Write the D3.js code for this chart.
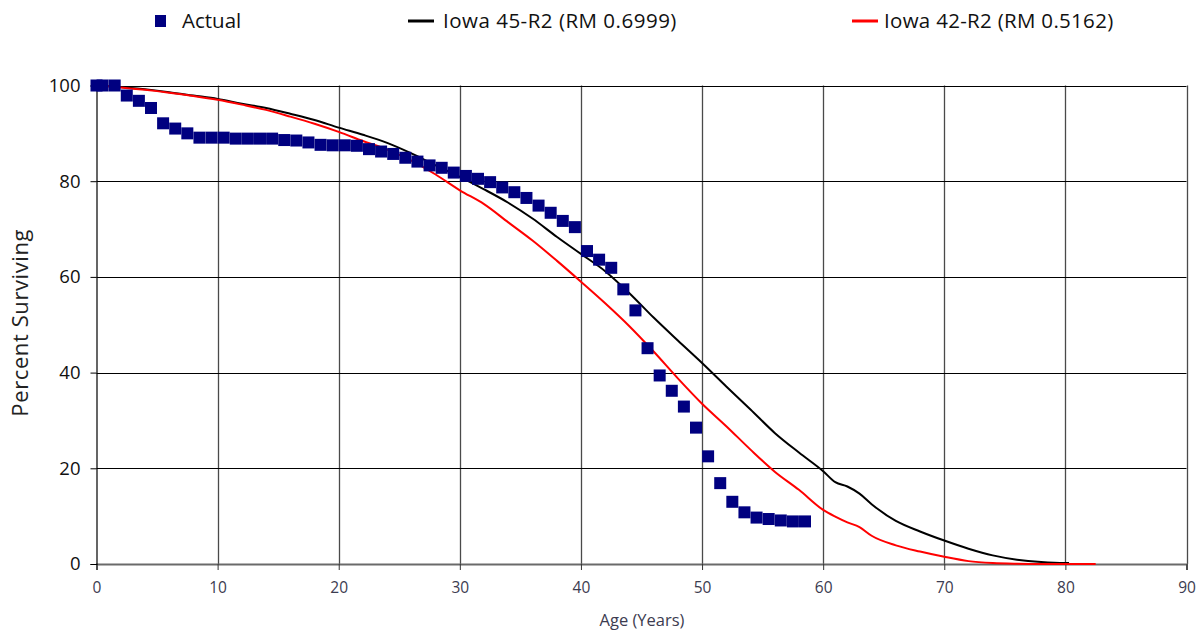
<!DOCTYPE html>
<html>
<head>
<meta charset="utf-8">
<script src="https://cdn.jsdelivr.net/npm/d3@7"></script>
<style>
  html, body { margin: 0; padding: 0; background: #fff; }
  svg { display: block; font-family: "Open Sans", "DejaVu Sans", sans-serif; }
</style>
</head>
<body>
<svg id="chart" width="1199" height="630"></svg>
<script>
// ---- data ----
const actualAges = [0, 0.5, 1.5, 2.5, 3.5, 4.5, 5.5, 6.5, 7.5, 8.5, 9.5, 10.5, 11.5, 12.5, 13.5, 14.5, 15.5, 16.5, 17.5, 18.5, 19.5, 20.5, 21.5, 22.5, 23.5, 24.5, 25.5, 26.5, 27.5, 28.5, 29.5, 30.5, 31.5, 32.5, 33.5, 34.5, 35.5, 36.5, 37.5, 38.5, 39.5, 40.5, 41.5, 42.5, 43.5, 44.5, 45.5, 46.5, 47.5, 48.5, 49.5, 50.5, 51.5, 52.5, 53.5, 54.5, 55.5, 56.5, 57.5, 58.5];
const actualValues = [100, 100, 100, 97.9, 96.8, 95.3, 92.1, 91.0, 90.0, 89.1, 89.1, 89.1, 88.9, 88.9, 88.9, 88.9, 88.6, 88.5, 88.1, 87.6, 87.5, 87.5, 87.4, 86.7, 86.2, 85.7, 84.9, 84.1, 83.3, 82.8, 81.8, 81.1, 80.5, 79.8, 78.7, 77.7, 76.5, 74.9, 73.4, 71.7, 70.4, 65.4, 63.6, 61.9, 57.4, 53.0, 45.1, 39.4, 36.2, 32.9, 28.5, 22.5, 16.9, 13.0, 10.8, 9.7, 9.4, 9.1, 8.9, 8.9];

const iowa45Ages = [0, 2, 4, 6, 8, 10, 12, 14, 16, 18, 20, 22, 24, 26, 28, 30, 32, 34, 36, 38, 40, 42, 44, 46, 48, 50, 52, 54, 56, 58, 60, 61, 62, 63, 64, 66, 68, 70, 72, 74, 76, 78, 80, 80.3];
const iowa45Values = [100, 99.7, 99.2, 98.6, 97.9, 97.2, 96.2, 95.3, 94.1, 92.8, 91.2, 89.7, 88.0, 85.8, 83.3, 80.9, 78.3, 75.5, 72.2, 68.4, 64.8, 61.2, 56.6, 51.5, 46.7, 42.0, 37.1, 32.3, 27.4, 23.3, 19.4, 17.1, 16.2, 14.7, 12.5, 9.0, 6.8, 4.9, 3.2, 1.8, 0.9, 0.4, 0.2, 0.2];

const iowa42Ages = [0, 2, 4, 6, 8, 10, 12, 14, 16, 18, 20, 22, 24, 26, 28, 30, 32, 34, 36, 38, 40, 42, 44, 46, 48, 50, 52, 54, 56, 58, 60, 61, 62, 63, 64, 66, 68, 70, 72, 74, 76, 78, 80, 82.5];
const iowa42Values = [100, 99.6, 99.1, 98.5, 97.8, 97.0, 96.0, 94.9, 93.5, 92.0, 90.3, 88.4, 86.6, 84.3, 81.4, 78.1, 75.2, 71.4, 67.6, 63.4, 59.0, 54.5, 49.7, 44.4, 38.8, 33.5, 28.8, 23.9, 19.3, 15.5, 11.3, 9.9, 8.7, 7.7, 5.9, 3.9, 2.6, 1.5, 0.6, 0.2, 0.05, 0, 0, 0];

const xTicks = [0, 10, 20, 30, 40, 50, 60, 70, 80, 90];
const yTicks = [0, 20, 40, 60, 80, 100];

const legendLabels = ["Actual", "Iowa 45-R2 (RM 0.6999)", "Iowa 42-R2 (RM 0.5162)"];
const axisTitles = { x: "Age (Years)", y: "Percent Surviving" };

// ---- drawing ----
const svg = d3.select("#chart");
const x = d3.scaleLinear().domain([0, 90]).range([96.5, 1186.5]);
const y = d3.scaleLinear().domain([0, 100]).range([564, 85.5]);

// gridlines
const grid = svg.append("g");
grid.selectAll("line.v").data(xTicks.filter(d => d > 0)).enter().append("line")
  .attr("x1", d => Math.round(x(d)) + 0.5).attr("x2", d => Math.round(x(d)) + 0.5)
  .attr("y1", y(100)).attr("y2", y(0))
  .attr("stroke", "#4a4a4a").attr("stroke-width", 1.3);
grid.selectAll("line.h").data(yTicks.filter(d => d > 0)).enter().append("line")
  .attr("x1", x(0)).attr("x2", x(90))
  .attr("y1", d => Math.round(y(d)) + 0.5).attr("y2", d => Math.round(y(d)) + 0.5)
  .attr("stroke", "#000").attr("stroke-width", 1);

// axes
const xAxis = d3.axisBottom(x).tickValues(xTicks).tickSize(6).tickPadding(12);
const gx = svg.append("g").attr("transform", `translate(0,${y(0)})`).call(xAxis);
gx.select(".domain").attr("stroke", "#6a6a6a").attr("stroke-width", 2);
gx.selectAll(".tick line").attr("stroke", "#333");
gx.selectAll(".tick text").attr("font-size", 15.5).attr("fill", "#3c3c50")
  .attr("font-family", "'Open Sans', sans-serif");

const yAxis = d3.axisLeft(y).tickValues(yTicks).tickSize(6).tickPadding(10);
const gy = svg.append("g").attr("transform", `translate(${x(0)},0)`).call(yAxis);
gy.select(".domain").attr("stroke", "#000").attr("stroke-width", 1.2);
gy.selectAll(".tick line").attr("stroke", "#000");
gy.selectAll(".tick text").attr("font-size", 18.5).attr("fill", "#111")
  .attr("font-family", "'Open Sans', sans-serif");

// lines
const line = d3.line().x(d => x(d[0])).y(d => y(d[1])).curve(d3.curveMonotoneX);
svg.append("path").datum(d3.zip(iowa45Ages, iowa45Values))
  .attr("d", line).attr("fill", "none").attr("stroke", "#000").attr("stroke-width", 2);
svg.append("path").datum(d3.zip(iowa42Ages, iowa42Values))
  .attr("d", line).attr("fill", "none").attr("stroke", "#ff0000").attr("stroke-width", 2);

// actual squares
const sq = 12;
svg.append("g").selectAll("rect").data(d3.zip(actualAges, actualValues)).enter().append("rect")
  .attr("x", d => x(d[0]) - sq / 2).attr("y", d => y(d[1]) - sq / 2)
  .attr("width", sq).attr("height", sq).attr("fill", "#000080");

// axis titles
svg.append("text").attr("x", 642).attr("y", 626).attr("text-anchor", "middle")
  .attr("font-size", 16.5).attr("fill", "#3c3c50").text(axisTitles.x);
svg.append("text").attr("transform", `translate(28,${y(50) - 2}) rotate(-90)`)
  .attr("text-anchor", "middle").attr("font-size", 22).attr("letter-spacing", 0.6)
  .attr("fill", "#222").text(axisTitles.y);

// legend
const lg = svg.append("g").attr("font-size", 20.5).attr("fill", "#111");
lg.append("rect").attr("x", 155).attr("y", 15).attr("width", 11).attr("height", 12).attr("fill", "#000080");
lg.append("text").attr("x", 182).attr("y", 28).text(legendLabels[0]);
lg.append("line").attr("x1", 408).attr("x2", 434).attr("y1", 21).attr("y2", 21).attr("stroke", "#000").attr("stroke-width", 3);
lg.append("text").attr("x", 443).attr("y", 28).attr("letter-spacing", 0.5).text(legendLabels[1]);
lg.append("line").attr("x1", 852).attr("x2", 878).attr("y1", 21).attr("y2", 21).attr("stroke", "#ff0000").attr("stroke-width", 3);
lg.append("text").attr("x", 884).attr("y", 28).attr("letter-spacing", 0.3).text(legendLabels[2]);
</script>
</body>
</html>
